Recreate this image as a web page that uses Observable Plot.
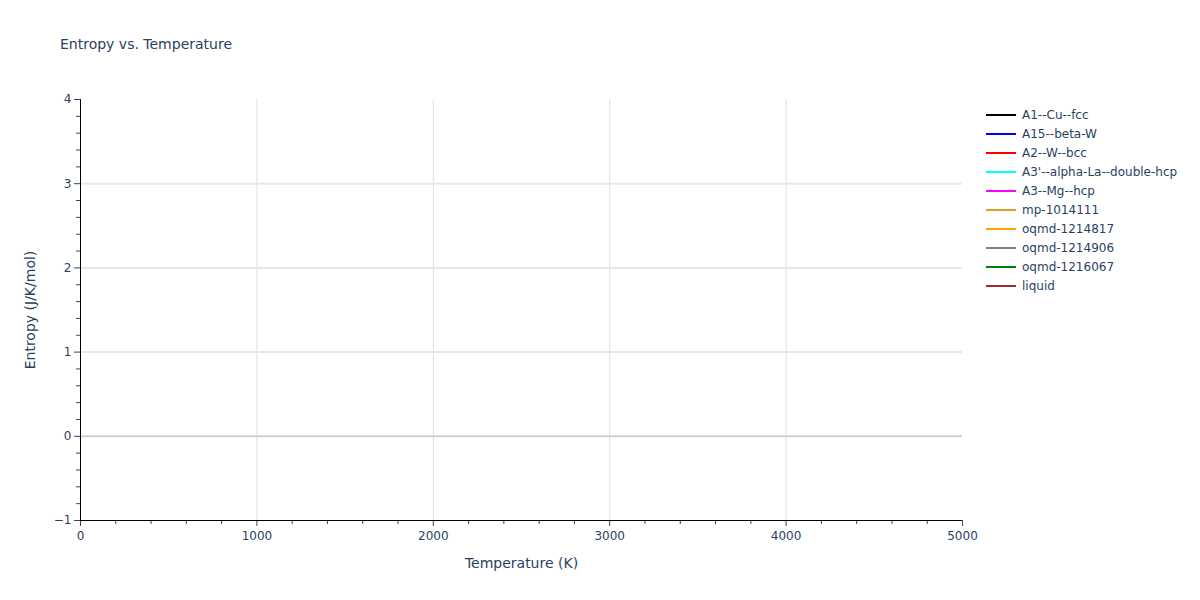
<!DOCTYPE html>
<html>
<head>
<meta charset="utf-8">
<script src="https://cdn.jsdelivr.net/npm/d3@7"></script>
<script src="https://cdn.jsdelivr.net/npm/@observablehq/plot@0.6"></script>
<style>
  html, body { margin: 0; padding: 0; background: #fff; }
  #wrap { position: relative; width: 1200px; height: 600px; font-family: "DejaVu Sans", sans-serif; color: #2a3f5f; }
  #title { position: absolute; left: 60px; top: 36px; font-size: 14px; color: #2a3f5f; white-space: nowrap; }
  #legend { position: absolute; left: 986px; top: 105px; font-size: 12px; color: #2a3f5f; }
  .item { height: 19px; display: flex; align-items: center; white-space: nowrap; }
  .item svg { margin-right: 6px; }
</style>
</head>
<body>
<div id="wrap">
  <div id="chart"></div>
  <div id="title">Entropy vs. Temperature</div>
  <div id="legend"></div>
</div>
<script>
// Series names and colours (legend order)
const seriesNames = ["A1--Cu--fcc", "A15--beta-W", "A2--W--bcc", "A3'--alpha-La--double-hcp", "A3--Mg--hcp",
                     "mp-1014111", "oqmd-1214817", "oqmd-1214906", "oqmd-1216067", "liquid"];
const seriesColors = ["black", "blue", "red", "cyan", "magenta", "goldenrod", "orange", "gray", "green", "brown"];
// No visible data points in the reference: each series is empty
const seriesTemps = [[], [], [], [], [], [], [], [], [], []];
const seriesEntropy = [[], [], [], [], [], [], [], [], [], []];

const xMajor = [0, 1000, 2000, 3000, 4000, 5000];
const xMinor = d3.range(0, 5001, 200).filter(v => v % 1000 !== 0);
const yMajor = [-1, 0, 1, 2, 3, 4];
const yMinor = d3.range(-10, 41, 2).map(v => v / 10).filter(v => !Number.isInteger(v));

const rows = [];
seriesNames.forEach((name, i) => {
  seriesTemps[i].forEach((t, j) => rows.push({ series: name, T: t, S: seriesEntropy[i][j] }));
});

const chart = Plot.plot({
  width: 1200,
  height: 600,
  marginLeft: 80,
  marginRight: 238,
  marginTop: 99,
  marginBottom: 80,
  style: { fontFamily: "'DejaVu Sans', sans-serif", fontSize: "12px", color: "#2a3f5f", background: "#fff" },
  x: { domain: [0, 5000], label: null },
  y: { domain: [-1, 4], label: null },
  color: { domain: seriesNames, range: seriesColors },
  marks: [
    Plot.gridX([1000, 2000, 3000, 4000], { stroke: "#e0e0e0", strokeOpacity: 1, strokeWidth: 1 }),
    Plot.gridY([1, 2, 3], { stroke: "#e8e8e8", strokeOpacity: 1, strokeWidth: 2 }),
    Plot.ruleY([0], { stroke: "#d0d0d0", strokeWidth: 2 }),
    Plot.line(rows, { x: "T", y: "S", z: "series", stroke: "series", strokeWidth: 2 }),
    Plot.axisX(xMinor, { tickSize: 4, text: null, label: null, stroke: "#444" }),
    Plot.axisX(xMajor, { tickSize: 6, tickPadding: 5, stroke: "#444", fill: "#2a3f5f", fontSize: 12,
      tickFormat: d => String(d),
      label: "Temperature (K)", labelAnchor: "center", labelArrow: "none", labelOffset: 47 }),
    Plot.axisY(yMinor, { tickSize: 4, text: null, label: null, stroke: "#444" }),
    Plot.axisY(yMajor, { tickSize: 6, tickPadding: 3, stroke: "#444", fill: "#2a3f5f", fontSize: 12,
      tickFormat: d => d < 0 ? "\u2212" + Math.abs(d) : String(d),
      label: "Entropy (J/K/mol)", labelAnchor: "center", labelArrow: "none", labelOffset: 55 }),
    Plot.ruleX([0], { stroke: "#000", strokeWidth: 1 }),
    Plot.ruleY([-1], { stroke: "#000", strokeWidth: 1 })
  ]
});
document.getElementById("chart").appendChild(chart);

// Style axis labels like the reference
chart.querySelectorAll("g[aria-label='x-axis label'] text, g[aria-label='y-axis label'] text").forEach(t => {
  t.style.fontSize = "14px";
  t.setAttribute("fill", "#2a3f5f");
});

// Legend
const legend = document.getElementById("legend");
seriesNames.forEach((name, i) => {
  const div = document.createElement("div");
  div.className = "item";
  div.innerHTML = `<svg width="30" height="4"><line x1="0" y1="2" x2="30" y2="2" stroke="${seriesColors[i]}" stroke-width="2"/></svg><span>${name}</span>`;
  legend.appendChild(div);
});
</script>
</body>
</html>
